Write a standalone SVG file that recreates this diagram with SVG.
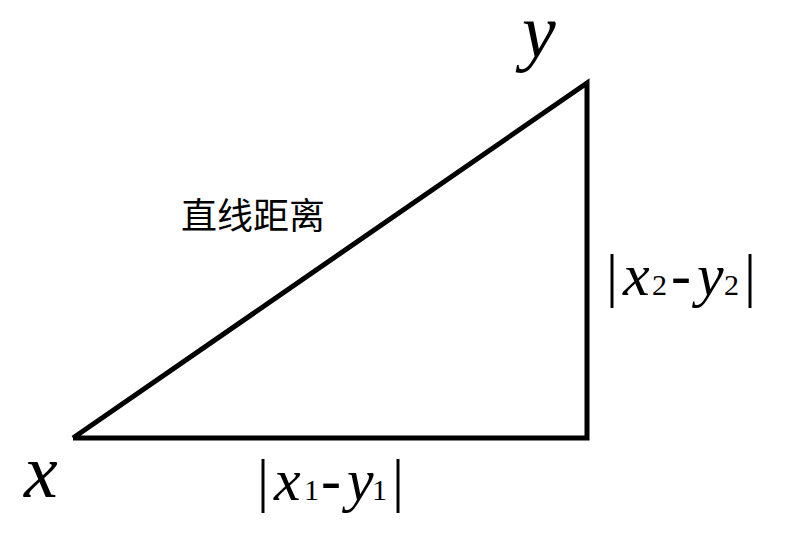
<svg xmlns="http://www.w3.org/2000/svg" width="787" height="547" viewBox="0 0 787 547">
<style>
.edge{fill:none;stroke:#000;stroke-width:5;stroke-linejoin:miter}
.v{font-style:italic}
.s{font-size:30px}
text{fill:#000}
</style>
<rect width="787" height="547" fill="#fff"/>
<g id="connectors">
<polyline class="edge" points="73,438 587,438 587,83 73,438"/>
</g>
<g id="node-x"><text font-family="Liberation Serif" font-style="italic" xml:space="preserve" x="24" y="497" font-size="76">x </text></g>
<g id="node-y"><text font-family="Liberation Serif" font-style="italic" xml:space="preserve" x="522" y="57" font-size="76">y </text></g>
<g id="label-vert"><text font-family="Liberation Serif" x="606" y="295" font-size="60">|<tspan class="v" x="623">x</tspan><tspan class="s" x="652">2</tspan><tspan x="671">-</tspan><tspan class="v" x="697">y</tspan><tspan class="s" x="724">2</tspan><tspan x="744">|</tspan></text></g>
<g id="label-horiz"><text font-family="Liberation Serif" x="257" y="500" font-size="60">|<tspan class="v" x="274">x</tspan><tspan class="s" x="304">1</tspan><tspan x="321">-</tspan><tspan class="v" x="347">y</tspan><tspan class="s" x="372">1</tspan><tspan x="392">|</tspan></text></g>
<g id="label-diag"><text font-family="Noto Sans CJK SC, sans-serif" x="181" y="229" font-size="36">直线距离</text></g>
</svg>
